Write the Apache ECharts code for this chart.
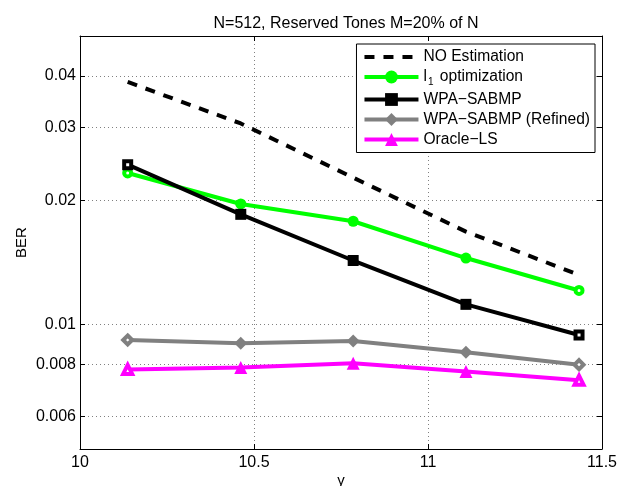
<!DOCTYPE html>
<html>
<head>
<meta charset="utf-8">
<script src="https://cdn.jsdelivr.net/npm/echarts@6/dist/echarts.min.js"></script>
<style>html,body{margin:0;padding:0;background:#fff;}#c{width:621px;height:486px;}</style>
</head>
<body>
<div id="c"></div>
<script>
const gamma = [10.137, 10.462, 10.785, 11.109, 11.434];
const noEst = [0.0387, 0.0307, 0.0227, 0.0168, 0.0132];
const l1Opt = [0.0233, 0.0196, 0.0178, 0.0145, 0.0121];
const wpa = [0.0244, 0.0185, 0.0143, 0.0112, 0.00944];
const wpaRef = [0.00918, 0.00901, 0.00913, 0.00857, 0.00800];
const oracle = [0.00779, 0.00788, 0.00806, 0.00770, 0.00734];
const yTicks = [0.006, 0.008, 0.01, 0.02, 0.03, 0.04];
const xMin = 10, xMax = 11.5, xStep = 0.5;
const yMin = 0.005, yMax = 0.05;
const names = ['NO Estimation', 'l1 optimization', 'WPA\u2212SABMP', 'WPA\u2212SABMP (Refined)', 'Oracle\u2212LS'];

const FONT = 'Liberation Sans, Arial, Helvetica, sans-serif';
const chart = echarts.init(document.getElementById('c'), null, {renderer: 'canvas'});

function pts(vals, color, size) {
  return vals.map((v, i) => {
    const o = {value: [gamma[i], v]};
    if (i === 0 || i === vals.length - 1) {
      o.symbolSize = size - 4;
      o.itemStyle = {color: '#fff', borderColor: color, borderWidth: 4};
    }
    return o;
  });
}
function mk(name, vals, color, symbol, size, dashed) {
  return {
    name: name, type: 'line',
    data: dashed ? vals.map((v, i) => [gamma[i], v]) : pts(vals, color, size),
    symbol: dashed ? 'none' : symbol, symbolSize: size, showSymbol: !dashed,
    lineStyle: {color: color, width: 4, type: dashed ? [10, 9] : 'solid', cap: 'butt'},
    itemStyle: {color: color, borderColor: color, borderWidth: 0},
    animation: false, silent: true
  };
}

const axisLine = {show: true, lineStyle: {color: '#000', width: 1}};
const tick = {show: true, inside: true, length: 5, lineStyle: {color: '#000'}};
const grid = {color: '#808080', width: 1, type: [1, 3]};

chart.setOption({
  animation: false,
  backgroundColor: '#fff',
  title: {
    text: 'N=512, Reserved Tones M=20% of N', left: 341, top: 11, textAlign: 'center',
    textStyle: {fontFamily: FONT, fontSize: 16, fontWeight: 'normal', color: '#000'}
  },
  grid: {left: 80, right: 19, top: 36, bottom: 37, containLabel: false, outerBoundsMode: 'none'},
  legend: {
    orient: 'vertical', right: 26, top: 44,
    backgroundColor: '#fff', borderColor: '#000', borderWidth: 1, borderRadius: 0,
    padding: [5, 5, 5, 6], itemGap: 4, itemWidth: 54, itemHeight: 16,
    data: [
      {name: names[0], itemStyle: {opacity: 0}, lineStyle: {width: 4}},
      {name: names[1], lineStyle: {width: 4}},
      {name: names[2], lineStyle: {width: 4}},
      {name: names[3], lineStyle: {width: 4}},
      {name: names[4], lineStyle: {width: 4}}
    ],
    formatter: function (n) { return n === 'l1 optimization' ? '{t|l}{s|1}{t| optimization}' : '{t|' + n + '}'; },
    textStyle: {
      fontFamily: FONT, fontSize: 15.6, color: '#000',
      rich: {
        t: {fontFamily: FONT, fontSize: 15.6, color: '#000'},
        s: {fontFamily: FONT, fontSize: 10, color: '#000', padding: [11, 2, 0, 1]}
      }
    }
  },
  xAxis: [
    {
      type: 'value', min: xMin, max: xMax, interval: xStep, position: 'bottom',
      name: '\u03b3', nameLocation: 'middle', nameGap: 24, nameMoveOverlap: false,
      nameTextStyle: {fontFamily: FONT, fontSize: 15, color: '#000'},
      axisLine: axisLine, axisTick: tick,
      axisLabel: {fontFamily: FONT, fontSize: 16, color: '#000', margin: 6, showMinLabel: true, showMaxLabel: true},
      splitLine: {show: true, lineStyle: grid}
    },
    {
      type: 'value', min: xMin, max: xMax, interval: xStep, position: 'top',
      axisLine: axisLine, axisTick: tick,
      axisLabel: {show: false}, splitLine: {show: false}
    }
  ],
  yAxis: [
    {
      type: 'log', logBase: 10, min: yMin, max: yMax, position: 'left',
      name: 'BER', nameLocation: 'middle', nameGap: 51, nameRotate: 90, nameMoveOverlap: false,
      nameTextStyle: {fontFamily: FONT, fontSize: 15, color: '#000'},
      axisLine: axisLine,
      axisLabel: {fontFamily: FONT, fontSize: 16, color: '#000', margin: 4, customValues: yTicks,
        formatter: v => String(+v.toPrecision(3))},
      axisTick: Object.assign({customValues: yTicks}, tick),
      splitLine: {show: true, lineStyle: grid},
      minorTick: {show: false}
    },
    {
      type: 'log', logBase: 10, min: yMin, max: yMax, position: 'right',
      axisLine: axisLine,
      axisLabel: {show: false, customValues: yTicks},
      axisTick: Object.assign({customValues: yTicks}, tick),
      splitLine: {show: false}
    }
  ],
  series: [
    mk(names[0], noEst, '#000000', 'none', 0, true),
    mk(names[1], l1Opt, '#00ff00', 'circle', 11, false),
    mk(names[2], wpa, '#000000', 'rect', 11, false),
    mk(names[3], wpaRef, '#808080', 'diamond', 13, false),
    mk(names[4], oracle, '#ff00ff', 'triangle', 13, false)
  ]
});
</script>
</body>
</html>
